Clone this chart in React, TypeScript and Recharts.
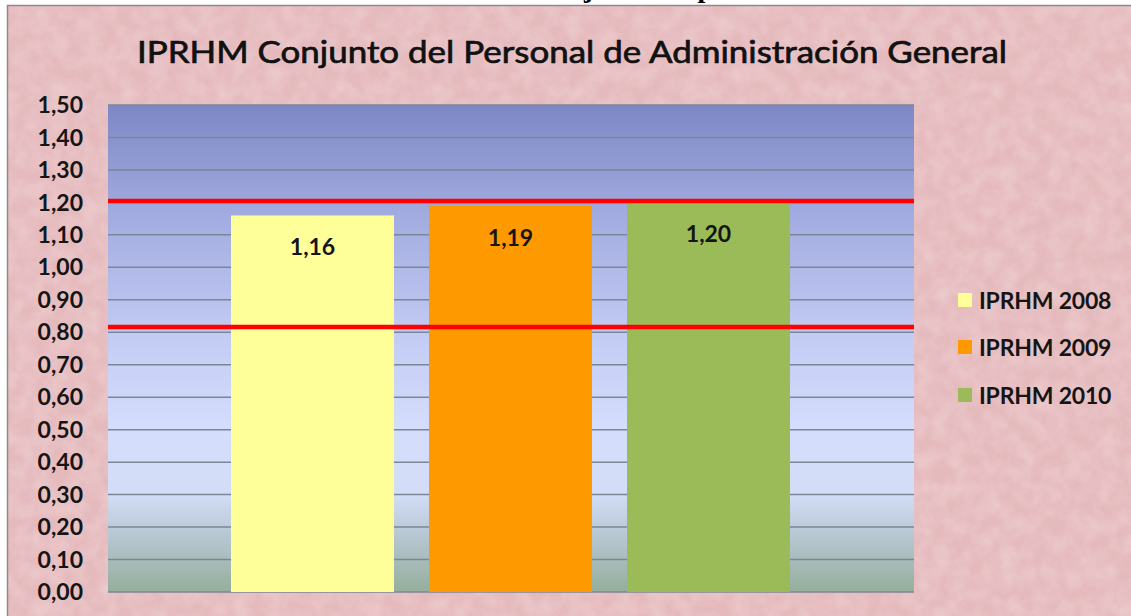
import React from 'react';
import {
  BarChart,
  Bar,
  XAxis,
  YAxis,
  CartesianGrid,
  ReferenceLine,
  LabelList,
  Legend,
} from 'recharts';

const chartTitle = 'IPRHM Conjunto del Personal de Administración General';
const seriesNames = ['IPRHM 2008', 'IPRHM 2009', 'IPRHM 2010'];
const seriesValues = [1.16, 1.19, 1.2];
const seriesColors = ['#ffff99', '#ff9900', '#9bbb59'];
const yTicks = [0, 0.1, 0.2, 0.3, 0.4, 0.5, 0.6, 0.7, 0.8, 0.9, 1.0, 1.1, 1.2, 1.3, 1.4, 1.5];
// red limit lines, drawn slightly off the grid in the original
const limitLines = [1.204, 0.816];

const row: Record<string, string | number> = { name: 'IPRHM' };
seriesNames.forEach((s, i) => {
  row[s] = seriesValues[i];
});
const data = [row];

const fmt = (v: number) => v.toFixed(2).replace('.', ',');
const font = 'Lato, "Open Sans", sans-serif';

function ValueLabel(props: any) {
  const { x, y, width, value } = props;
  return (
    <text
      x={x + width / 2}
      y={y + 31}
      textAnchor="middle"
      dominantBaseline="central"
      fontFamily={font}
      fontWeight={700}
      fontSize={23}
      fill="#151515"
    >
      {fmt(Number(value))}
    </text>
  );
}

function LegendBox(props: any) {
  const items = props.payload && props.payload.length
    ? props.payload
    : seriesNames.map((n, i) => ({ value: n, color: seriesColors[i] }));
  return (
    <div>
      {items.map((it: any) => (
        <div
          key={it.value}
          style={{ display: 'flex', alignItems: 'center', height: 47.5 }}
        >
          <span
            style={{
              display: 'inline-block',
              width: 14,
              height: 14,
              background: it.color,
              marginRight: 7,
            }}
          />
          <span
            style={{
              fontFamily: font,
              fontWeight: 700,
              fontSize: 23,
              color: '#151515',
              letterSpacing: -0.2,
            }}
          >
            {it.value}
          </span>
        </div>
      ))}
    </div>
  );
}

export default function App() {
  return (
    <div style={{ position: 'relative', width: 1131, height: 616, background: '#fff', overflow: 'hidden' }}>
      <style>{'body{margin:0}'}</style>
      <svg width={1131} height={616} style={{ position: 'absolute', left: 0, top: 0 }}>
        <defs>
          <filter id="grain" x="0" y="0" width="100%" height="100%">
            <feTurbulence type="fractalNoise" baseFrequency="0.06" numOctaves={4} seed={3} />
            <feColorMatrix
              type="matrix"
              values="0 0 0 0 1  0 0 0 0 0.93  0 0 0 0 0.94  0 0 0 -1.2 0.85"
            />
          </filter>
        </defs>
        <text
          x={542}
          y={-3}
          fontFamily='"Liberation Serif", serif'
          fontWeight={700}
          fontSize={28}
          fill="#000"
        >
          conjunto del personal
        </text>
        <rect x={7} y={5} width={1124} height={611} fill="#e5babd" />
        <rect x={7} y={5} width={1124} height={611} filter="url(#grain)" opacity={0.35} />
        <line x1={7} y1={5.5} x2={1131} y2={5.5} stroke="#8a8a8a" strokeWidth={1.5} />
        <line x1={7.5} y1={5} x2={7.5} y2={616} stroke="#8a8a8a" strokeWidth={1.5} />
        <text
          x={572}
          y={63}
          textAnchor="middle"
          fontFamily={font}
          fontSize={31}
          fill="#111"
          stroke="#111"
          strokeWidth={0.7}
          textLength={870}
          lengthAdjust="spacingAndGlyphs"
        >
          {chartTitle}
        </text>
      </svg>
      <div style={{ position: 'absolute', left: 0, top: 0 }}>
        <BarChart
          width={1131}
          height={616}
          data={data}
          margin={{ top: 105, right: 217, bottom: 24, left: 0 }}
          barCategoryGap={123}
          barGap={35}
        >
          <defs>
            <linearGradient id="plotBg" x1="0" y1="0" x2="0" y2="1">
              <stop offset="0%" stopColor="#7d87c4" />
              <stop offset="20%" stopColor="#9ea8dd" />
              <stop offset="47%" stopColor="#c2cbf3" />
              <stop offset="66%" stopColor="#d4ddfc" />
              <stop offset="80%" stopColor="#d3ddf7" />
              <stop offset="88%" stopColor="#b8c8d4" />
              <stop offset="100%" stopColor="#95ae9c" />
            </linearGradient>
          </defs>
          <CartesianGrid
            vertical={false}
            fill="url(#plotBg)"
            fillOpacity={1}
            stroke="#7c8696"
            strokeWidth={1.5}
            horizontalValues={yTicks}
          />
          <XAxis dataKey="name" hide />
          <YAxis
            width={108}
            domain={[0, 1.5]}
            ticks={yTicks}
            interval={0}
            tickFormatter={fmt}
            axisLine={false}
            tickLine={false}
            tickSize={0}
            tickMargin={25}
            tick={{ fontFamily: font, fontWeight: 700, fontSize: 23, fill: '#151515' }}
          />
          <Legend
            layout="vertical"
            align="center"
            verticalAlign="middle"
            content={<LegendBox />}
            wrapperStyle={{ left: 958, top: 276, width: 170 }}
          />
          {seriesNames.map((s, i) => (
            <Bar key={s} dataKey={s} fill={seriesColors[i]} isAnimationActive={false}>
              <LabelList dataKey={s} content={<ValueLabel />} />
            </Bar>
          ))}
          {limitLines.map((v) => (
            <ReferenceLine
              key={v}
              y={v}
              stroke="#ff0000"
              strokeWidth={4.5}
              ifOverflow="extendDomain"
            />
          ))}
        </BarChart>
      </div>
    </div>
  );
}
